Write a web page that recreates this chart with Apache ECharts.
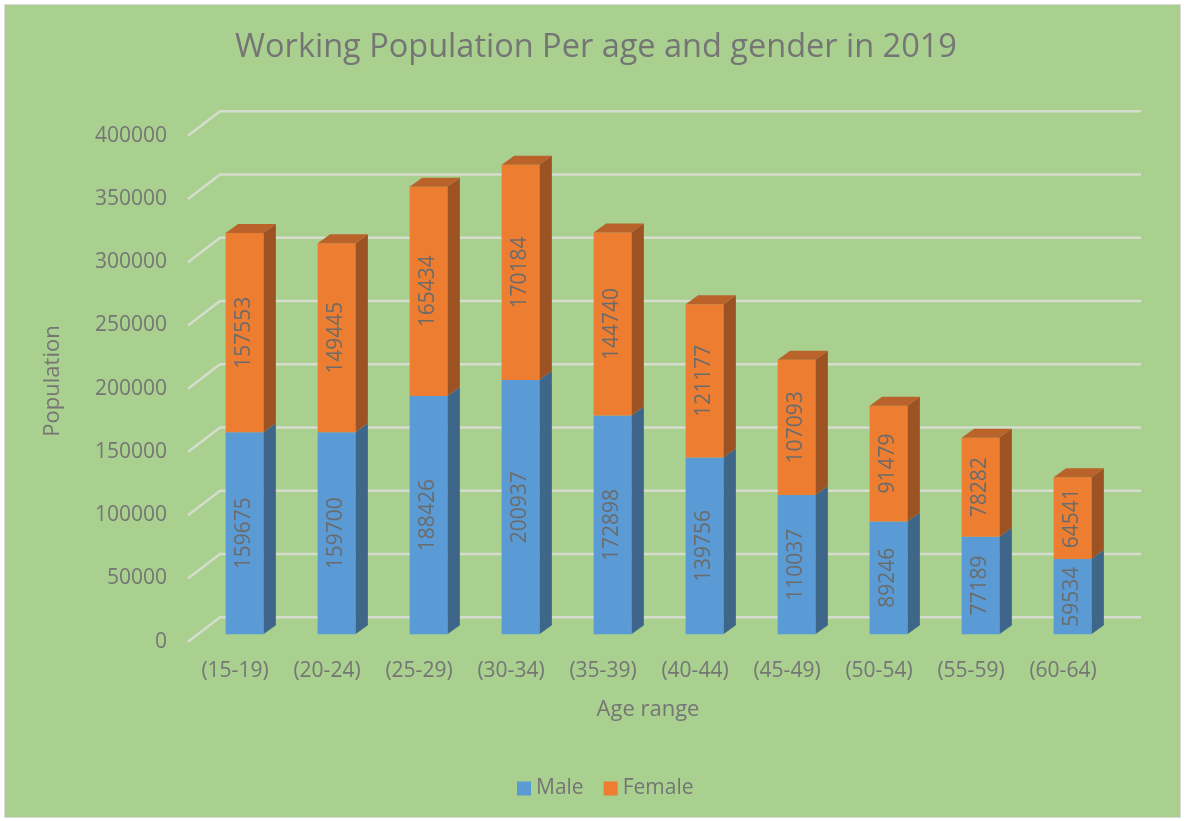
<!DOCTYPE html>
<html><head><meta charset="utf-8">
<script src="https://cdn.jsdelivr.net/npm/echarts@6/dist/echarts.min.js"></script>
<style>html,body{margin:0;padding:0;background:#fff}#c{width:1184px;height:821px}</style>
</head><body><div id="c"></div>
<script>
const categories = ['(15-19)','(20-24)','(25-29)','(30-34)','(35-39)','(40-44)','(45-49)','(50-54)','(55-59)','(60-64)'];
const male = [159675,159700,188426,200937,172898,139756,110037,89246,77189,59534];
const female = [157553,149445,165434,170184,144740,121177,107093,91479,78282,64541];
const yTicks = [0,50000,100000,150000,200000,250000,300000,350000,400000];

const FONT = '"Open Sans", "Noto Sans", sans-serif';
const TXT = '#757575';
const LBL = '#6b6b6b';
const BACK_DX = 32, BACK_DY = -24.4;
const BAR_OX = 9.5, BAR_OY = -7.4;
const DEP_DX = 12.5, DEP_DY = -9;

const styles = {
  Male: {front:'#5B9BD5', side:'#3D6689', top:'#4A80B2'},
  Female: {front:'#ED7D31', side:'#9C5222', top:'#B9622A'}
};

function barRender(name, isTop) {
  const st = styles[name];
  return function(params, api) {
    const i = api.value(0), lo = api.value(1), hi = api.value(2);
    const p0 = api.coord([i, lo]);
    const p1 = api.coord([i, hi]);
    const w = api.size([1, 0])[0] * 0.41;
    const cx = p0[0] + BAR_OX;
    const xL = cx - w / 2, xR = cx + w / 2;
    const yB = p0[1] + BAR_OY, yT = p1[1] + BAR_OY;
    const children = [
      {type:'polygon', shape:{points:[[xR,yB],[xR+DEP_DX,yB+DEP_DY],[xR+DEP_DX,yT+DEP_DY],[xR,yT]]}, style:{fill:st.side}},
      {type:'rect', shape:{x:xL, y:yT, width:w, height:yB-yT}, style:{fill:st.front}}
    ];
    if (isTop) {
      children.push({type:'polygon', shape:{points:[[xL,yT],[xR,yT],[xR+DEP_DX,yT+DEP_DY],[xL+DEP_DX,yT+DEP_DY]]}, style:{fill:st.top}});
    }
    children.push({type:'text', x: cx, y: (yB + yT) / 2, rotation: Math.PI / 2,
      style:{text: String(api.value(3)), fill: LBL, font: '21px ' + FONT, align:'center', verticalAlign:'middle'}});
    return {type:'group', children};
  };
}

const maleData = male.map((v, i) => [i, 0, v, v]);
const femaleData = female.map((v, i) => [i, male[i], male[i] + v, v]);
const gridData = yTicks.map(v => [0, v]);

const chart = echarts.init(document.getElementById('c'), null, {renderer:'canvas'});
chart.setOption({
  backgroundColor: '#ffffff',
  animation: false,
  graphic: [
    {type:'rect', left:4, top:4, z:-10, shape:{width:1176, height:813}, style:{fill:'#A9D08E', stroke:'#D9D9D9', lineWidth:1}},
    {type:'text', x:596, y:48, z:10, style:{text:'Working Population Per age and gender in 2019', fill:TXT, font:'32.5px ' + FONT, align:'center', verticalAlign:'middle'}},
    {type:'text', x:53, y:381, rotation: Math.PI/2, z:10, style:{text:'Population', fill:TXT, font:'22px ' + FONT, align:'center', verticalAlign:'middle'}},
    {type:'text', x:648, y:710, z:10, style:{text:'Age range', fill:TXT, font:'22px ' + FONT, align:'center', verticalAlign:'middle'}}
  ],
  legend: {
    left: 512, top: 773, itemWidth: 14, itemHeight: 14, itemGap: 20,
    icon: 'rect',
    textStyle: {color: TXT, fontSize: 21, fontFamily: FONT},
    data: ['Male', 'Female']
  },
  grid: {left: 189, width: 920, top: 135.7, bottom: 821 - 641.7},
  xAxis: {
    type: 'category', data: categories,
    axisLine: {show:false}, axisTick: {show:false},
    axisLabel: {color: TXT, fontSize: 21, fontFamily: FONT, margin: 19, interval: 0}
  },
  yAxis: {
    type: 'value', min: 0, max: 400000, interval: 50000,
    axisLine: {show:false}, axisTick: {show:false}, splitLine: {show:false},
    axisLabel: {color: TXT, fontSize: 21, fontFamily: FONT, margin: 22, formatter: v => String(v)}
  },
  series: [
    {
      name: 'grid', type: 'custom', data: gridData, silent: true, z: 1,
      encode: {x: 0, y: 1},
      renderItem: function(params, api) {
        const cs = params.coordSys;
        const y = api.coord([0, api.value(1)])[1];
        const x0 = cs.x - 1;
        return {type:'polyline', shape:{points:[[x0, y],[x0 + BACK_DX, y + BACK_DY],[cs.x + cs.width + BACK_DX, y + BACK_DY]]},
          style:{stroke:'#D6DDCF', lineWidth:2.5, fill:null}};
      }
    },
    {
      name: 'Male', type: 'custom', data: maleData, z: 2,
      encode: {x: 0, y: [1, 2]},
      itemStyle: {color: '#5B9BD5'},
      renderItem: barRender('Male', false)
    },
    {
      name: 'Female', type: 'custom', data: femaleData, z: 3,
      encode: {x: 0, y: [1, 2]},
      itemStyle: {color: '#ED7D31'},
      renderItem: barRender('Female', true)
    }
  ]
});
</script></body></html>
